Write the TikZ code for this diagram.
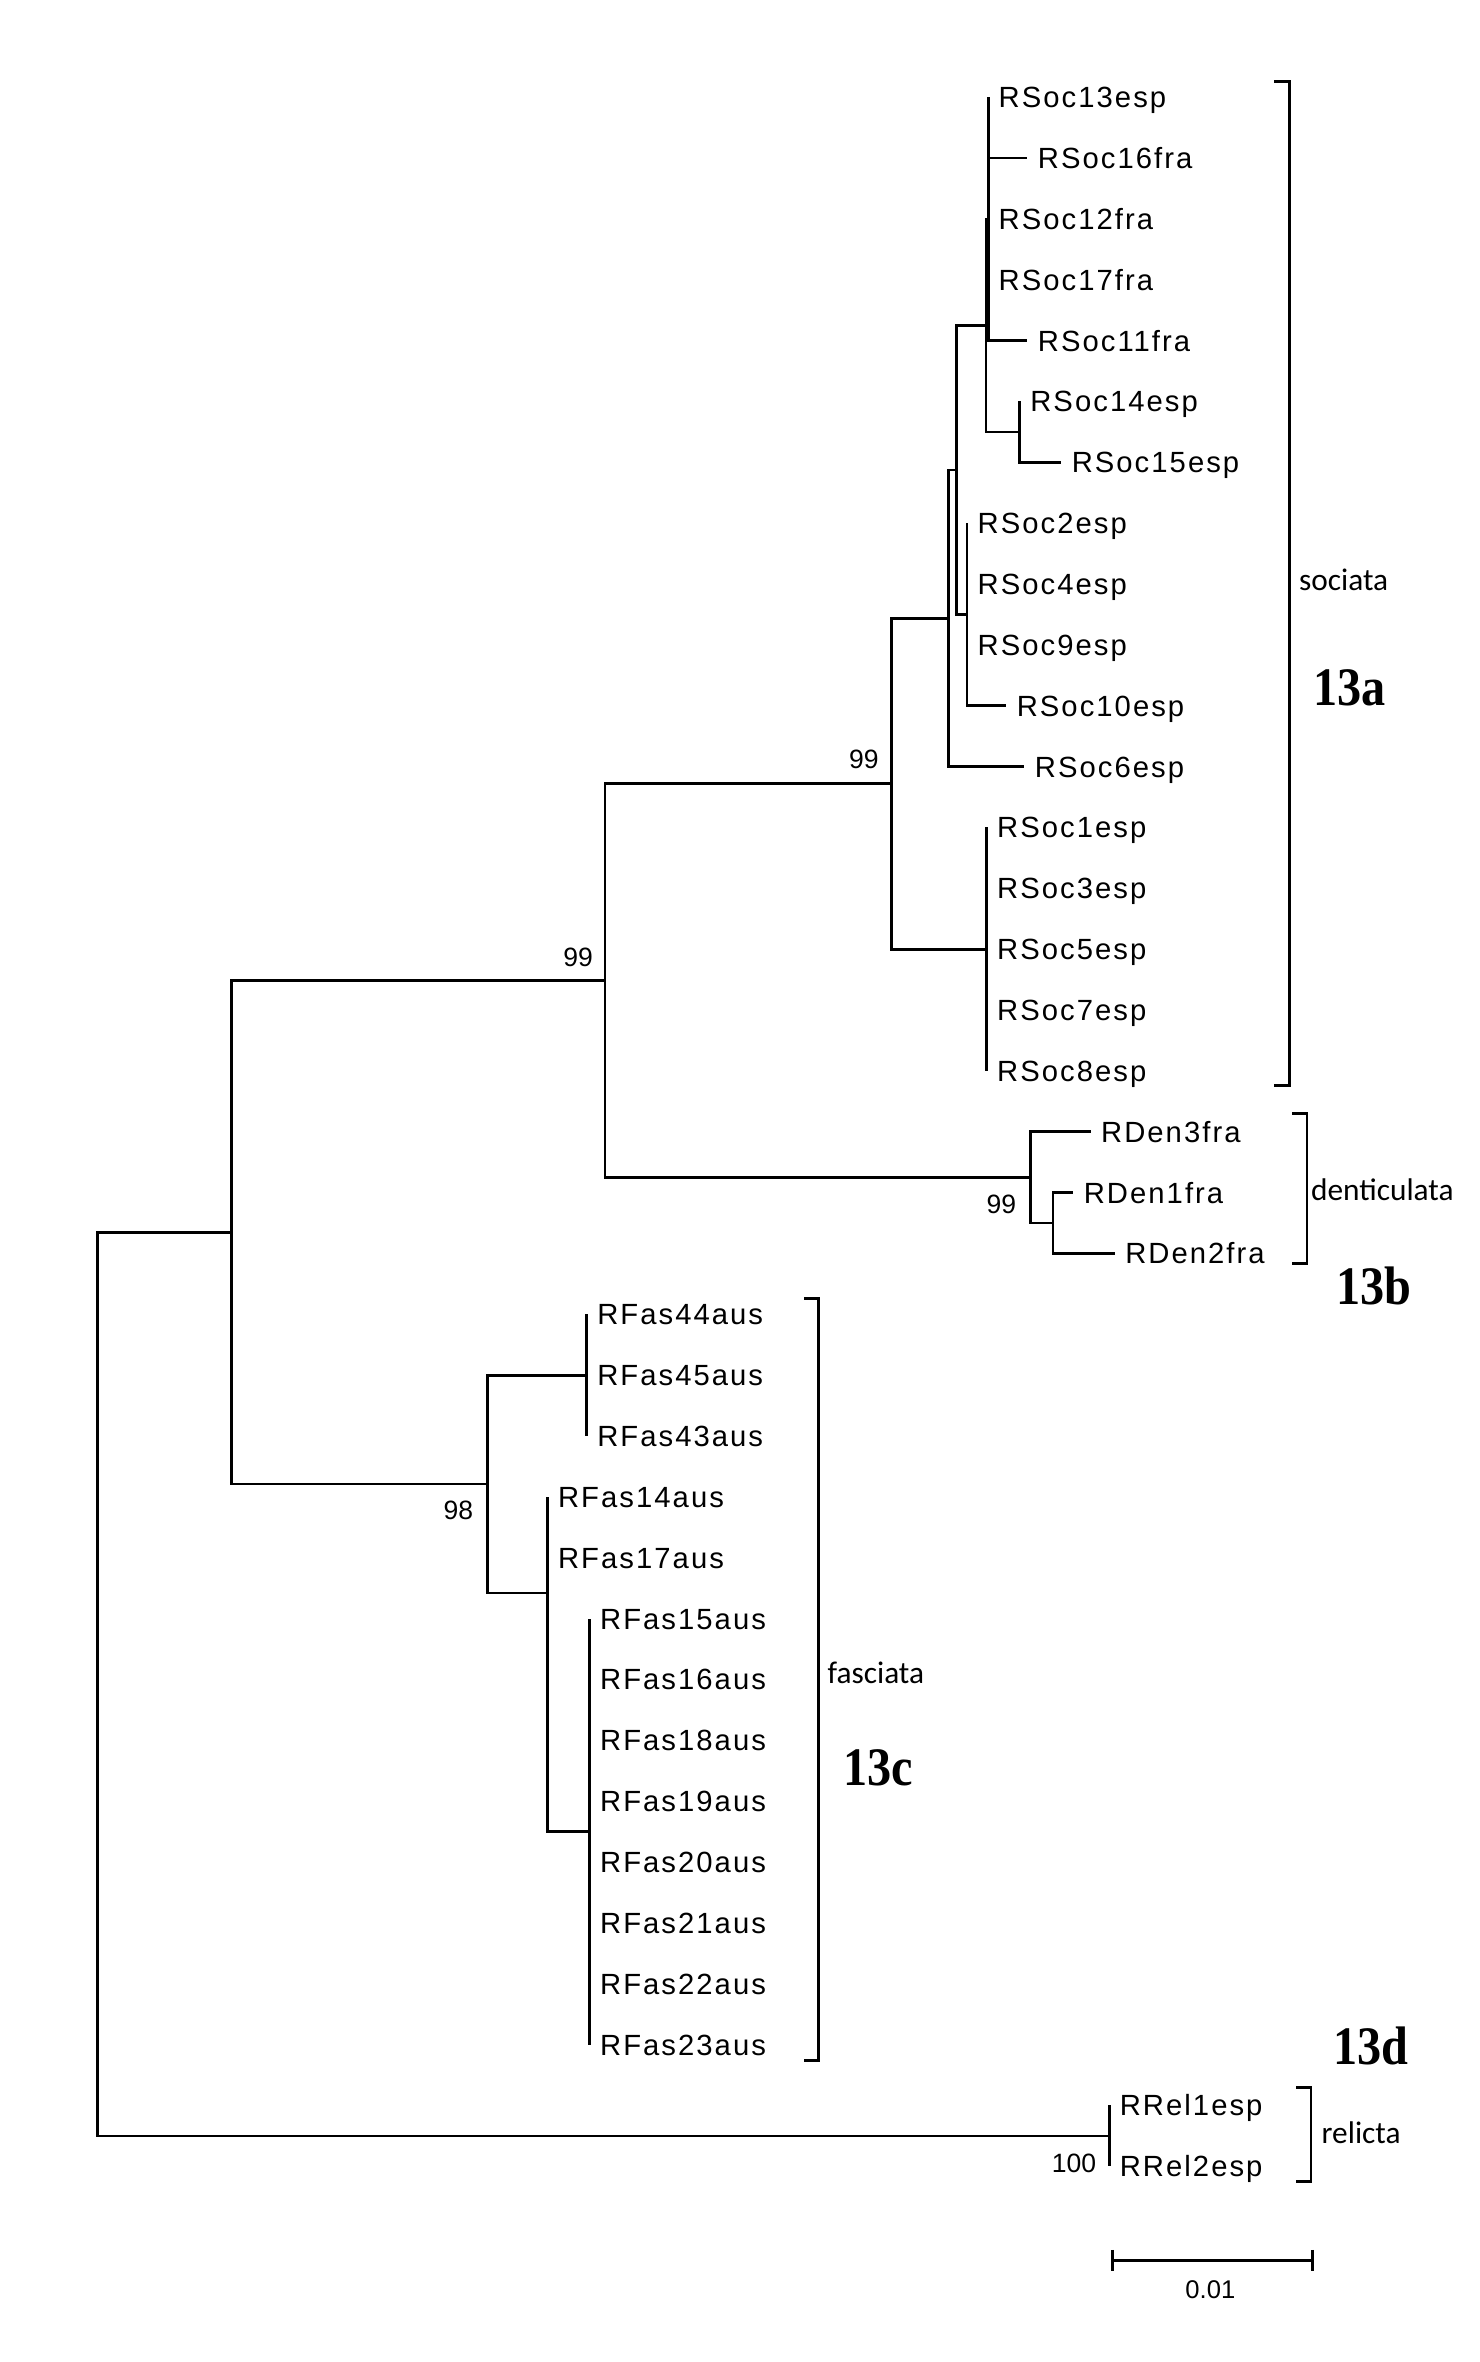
\documentclass[tikz,border=0pt]{standalone}
\usepackage{fontspec}
\usepackage{graphicx}
\setmainfont{Liberation Sans}
\newfontfamily\leaffont[LetterSpace=7]{Liberation Sans}
\newfontfamily\grpfont{Carlito}
\newfontfamily\bigfont{Liberation Serif}
\begin{document}
\begin{tikzpicture}[x=0.5pt,y=-0.5pt,
  branch/.style={line width=0.9pt},
  brk/.style={line width=0.95pt},
  leaf/.style={anchor=west, font=\leaffont\fontsize{9.7}{10}\selectfont, inner xsep=3.5pt, inner ysep=0pt, text height=6.95pt, text depth=0pt, outer sep=0pt},
  boot/.style={anchor=east, font=\fontsize{8.8}{9}\selectfont, inner sep=0pt, text height=6.3pt, text depth=0pt},
  grp/.style={anchor=west, font=\grpfont\fontsize{10.4}{11}\selectfont, inner sep=0pt, text height=4.8pt, text depth=0pt},
  clade/.style={font=\bigfont\bfseries\fontsize{18}{18}\selectfont, inner sep=0pt, text height=12.2pt, text depth=0pt}]
\useasboundingbox (0,0) rectangle (982,1568);

% internal nodes
\coordinate (root) at (64.5,1118);
\coordinate (B) at (153.5,818.05);
\coordinate (C) at (401.7,650.9);
\coordinate (D) at (323.4,985.2);
\coordinate (E) at (591.6,520.25);
\coordinate (F) at (684,781.6);
\coordinate (G) at (629.5,410.4);
\coordinate (H) at (655,630.1);
\coordinate (N) at (635,311.95);
\coordinate (P) at (654.5,216.0);
\coordinate (M) at (642,407.9);
\coordinate (Q) at (656,145.3);
\coordinate (J) at (677,286.7);
\coordinate (FD) at (699,811.9);
\coordinate (FU) at (389.5,912.9);
\coordinate (FL) at (363.5,1057.5);
\coordinate (FD2) at (391.4,1215.9);
\coordinate (Rel) at (736.4,1417.9);

% leaves
\node[leaf] (s13) at (656,64.5) {RSoc13esp};
\node[leaf] (s16) at (682,104.9) {RSoc16fra};
\node[leaf] (s12) at (656,145.3) {RSoc12fra};
\node[leaf] (s17) at (656,185.7) {RSoc17fra};
\node[leaf] (s11) at (682,226.1) {RSoc11fra};
\node[leaf] (s14) at (677,266.5) {RSoc14esp};
\node[leaf] (s15) at (704.5,306.9) {RSoc15esp};
\node[leaf] (s2) at (642,347.3) {RSoc2esp};
\node[leaf] (s4) at (642,387.7) {RSoc4esp};
\node[leaf] (s9) at (642,428.1) {RSoc9esp};
\node[leaf] (s10) at (668,468.5) {RSoc10esp};
\node[leaf] (s6) at (680,508.9) {RSoc6esp};
\node[leaf] (s1) at (655,549.3) {RSoc1esp};
\node[leaf] (s3) at (655,589.7) {RSoc3esp};
\node[leaf] (s5) at (655,630.1) {RSoc5esp};
\node[leaf] (s7) at (655,670.5) {RSoc7esp};
\node[leaf] (s8) at (655,710.9) {RSoc8esp};
\node[leaf] (d3) at (724,751.3) {RDen3fra};
\node[leaf] (d1) at (712.5,791.7) {RDen1fra};
\node[leaf] (d2) at (740,832.1) {RDen2fra};
\node[leaf] (f44) at (389.5,872.5) {RFas44aus};
\node[leaf] (f45) at (389.5,912.9) {RFas45aus};
\node[leaf] (f43) at (389.5,953.3) {RFas43aus};
\node[leaf] (f14) at (363.5,993.7) {RFas14aus};
\node[leaf] (f17) at (363.5,1034.1) {RFas17aus};
\node[leaf] (f15) at (391.4,1074.5) {RFas15aus};
\node[leaf] (f16) at (391.4,1114.9) {RFas16aus};
\node[leaf] (f18) at (391.4,1155.3) {RFas18aus};
\node[leaf] (f19) at (391.4,1195.7) {RFas19aus};
\node[leaf] (f20) at (391.4,1236.1) {RFas20aus};
\node[leaf] (f21) at (391.4,1276.5) {RFas21aus};
\node[leaf] (f22) at (391.4,1316.9) {RFas22aus};
\node[leaf] (f23) at (391.4,1357.3) {RFas23aus};
\node[leaf] (r1) at (736.4,1397.7) {RRel1esp};
\node[leaf] (r2) at (736.4,1438.1) {RRel2esp};

% branches
\draw[branch] (root) |- (B);
\draw[branch] (root) |- (Rel);
\draw[branch] (B) |- (C);
\draw[branch] (B) |- (D);
\draw[branch] (C) |- (E);
\draw[branch] (C) |- (F);
\draw[branch] (E) |- (G);
\draw[branch] (E) |- (H);
\draw[branch] (G) |- (N);
\draw[branch] (G) |- (s6.west);
\draw[branch] (N) |- (P);
\draw[branch] (N) |- (M);
\draw[branch] (P) |- (Q);
\draw[branch] (P) |- (J);
\foreach \l in {s13,s16,s12,s17,s11} \draw[branch] (Q) |- (\l.west);
\foreach \l in {s14,s15} \draw[branch] (J) |- (\l.west);
\foreach \l in {s2,s4,s9,s10} \draw[branch] (M) |- (\l.west);
\foreach \l in {s1,s3,s5,s7,s8} \draw[branch] (H) |- (\l.west);
\draw[branch] (F) |- (d3.west);
\draw[branch] (F) |- (FD);
\foreach \l in {d1,d2} \draw[branch] (FD) |- (\l.west);
\draw[branch] (D) |- (FU);
\draw[branch] (D) |- (FL);
\foreach \l in {f44,f45,f43} \draw[branch] (FU) |- (\l.west);
\foreach \l in {f14,f17} \draw[branch] (FL) |- (\l.west);
\draw[branch] (FL) |- (FD2);
\foreach \l in {f15,f16,f18,f19,f20,f21,f22,f23} \draw[branch] (FD2) |- (\l.west);
\foreach \l in {r1,r2} \draw[branch] (Rel) |- (\l.west);

% bootstrap values
\node[boot] (bE) at (583.7,504) {99};
\node[boot] (bC) at (394,635) {99};
\node[boot] (bF) at (675,799) {99};
\node[boot] (bD) at (314.5,1002.6) {98};
\node[boot] (bR) at (728,1436) {100};

% brackets
\draw[brk] (846,54) -- (856,54) -- (856,720.5) -- (846,720.5);
\draw[brk] (857.7,739) -- (867.6,739) -- (867.6,839) -- (857.7,839);
\draw[brk] (534,862) -- (543.5,862) -- (543.5,1368) -- (534,1368);
\draw[brk] (860.6,1386) -- (870.3,1386) -- (870.3,1448) -- (860.6,1448);

% group names
\node[grp] (gs) at (862,387) {sociata};
\node[grp] (gd) at (870,792) {denticulata};
\node[grp] (gf) at (549,1113) {fasciata};
\node[grp] (gr) at (877,1418) {relicta};

% clade labels
\node[clade] (c13a) at (896,456) {\scalebox{0.89}[1]{13a}};
\node[clade] (c13b) at (912,854) {\scalebox{0.89}[1]{13b}};
\node[clade] (c13c) at (583,1173) {\scalebox{0.89}[1]{13c}};
\node[clade] (c13d) at (910,1358) {\scalebox{0.89}[1]{13d}};

% scale bar
\coordinate (sb1) at (738.6,1500.7);
\coordinate (sb2) at (871.4,1500.7);
\draw[line width=1.05pt] (sb1) -- (sb2);
\draw[line width=1.05pt] ([yshift=3.6pt]sb1) -- ([yshift=-3.6pt]sb1);
\draw[line width=1.05pt] ([yshift=3.6pt]sb2) -- ([yshift=-3.6pt]sb2);
\node[boot, anchor=center, font=\fontsize{8.5}{9}\selectfont] (sbl) at (803.5,1519.5) {0.01};
\end{tikzpicture}
\end{document}
